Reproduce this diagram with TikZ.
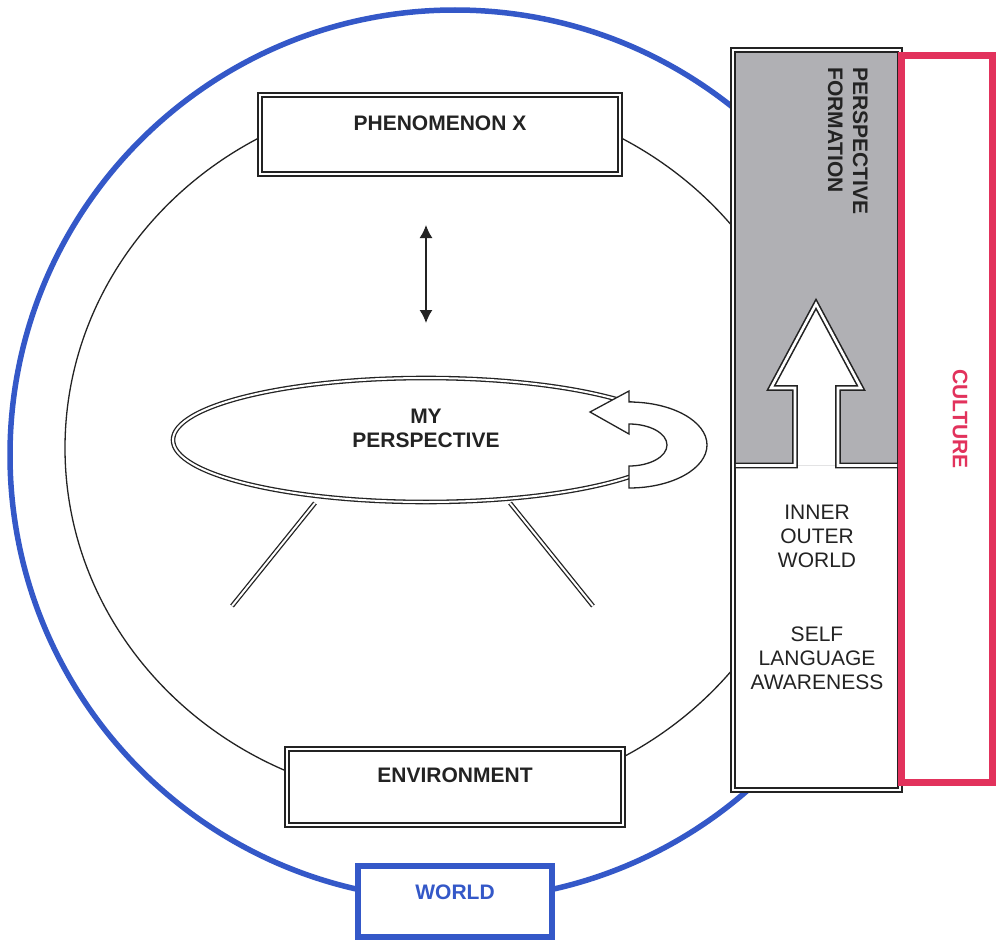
\documentclass[tikz,border=0pt]{standalone}
\usepackage{fontspec}
\setmainfont{Liberation Sans}
\usetikzlibrary{arrows.meta,shapes.geometric}
\definecolor{worldblue}{RGB}{52,88,200}
\definecolor{culturered}{RGB}{226,50,92}
\definecolor{pfgray}{RGB}{176,176,180}
\definecolor{ink}{RGB}{35,35,35}
\begin{document}
\begin{tikzpicture}[x=1pt,y=-1pt,
  dbl/.style={draw=ink, double=white, line width=1.6pt, double distance=2.6pt},
  dblthin/.style={draw=ink, double=white, line width=1.3pt, double distance=2pt},
  innerline/.style={draw=ink, line width=1.3pt},
  lbl/.style={font=\fontsize{21}{24}\selectfont, text=ink, inner sep=0pt},
  blbl/.style={font=\bfseries\fontsize{21}{24}\selectfont, text=ink, inner sep=0pt},
]
\useasboundingbox (0,0) rectangle (996,942);
\fill[white] (0,0) rectangle (996,942);

% world circle and inner ellipse
\draw[worldblue, line width=5.5pt] (455,455) circle[radius=445];
\draw[innerline] (440,448) ellipse[x radius=375, y radius=354];

% perspective formation column
\node[dbl, fill=white, rectangle, minimum width=167pt, minimum height=740pt, inner sep=0pt] (col) at (816.5,420) {};
\fill[pfgray] (735.8,52.8) rectangle (897.2,465.5);
\fill[white] (795,465.5) -- (795,388) -- (771,388) -- (816,304) -- (861,388) -- (838,388) -- (838,465.5) -- cycle;
\draw[dbl, line join=miter] (735.8,465.5) -- (795,465.5) -- (795,388) -- (771,388) -- (816,304) -- (861,388) -- (838,388) -- (838,465.5) -- (897.2,465.5);
\node[blbl, font=\bfseries\fontsize{21}{25}\selectfont, rotate=-90, anchor=north west, align=left] (pf) at (868,67) {PERSPECTIVE\\FORMATION};
\node[lbl, align=center] (inner) at (817,536) {INNER\\OUTER\\WORLD};
\node[lbl, align=center] (self) at (817,658.5) {SELF\\LANGUAGE\\AWARENESS};

% culture
\node[draw=culturered, line width=7pt, minimum width=91.5pt, minimum height=727pt, inner sep=0pt] (culture) at (946.75,419) {};
\node[blbl, text=culturered, rotate=-90] (culturelbl) at (960,419) {CULTURE};

% boxes
\node[dbl, fill=white, minimum width=360pt, text height=35.2pt, text depth=43.8pt, blbl] (phen) at (440,134.5) {PHENOMENON X};
\node[dbl, fill=white, minimum width=336pt, text height=33.2pt, text depth=42.8pt, blbl] (env) at (455,787) {ENVIRONMENT};
\node[draw=worldblue, line width=6pt, fill=white, minimum width=194pt, blbl, text=worldblue, text height=33.2pt, text depth=37.8pt] (world) at (455,901.5) {WORLD};

% legs
\coordinate (l1) at (315,503);
\coordinate (l2) at (232,606);
\coordinate (r1) at (510,503);
\coordinate (r2) at (593,606);
\draw[dblthin] (l1) -- (l2);
\draw[dblthin] (r1) -- (r2);

% my perspective
\node[ellipse, dblthin, fill=white, minimum width=506pt, minimum height=124pt, inner sep=0pt] (myp) at (426,440) {};
\node[blbl, align=center] (myplbl) at (426,428) {MY\\PERSPECTIVE};

% loop arrow
\filldraw[fill=white, draw=ink, line width=1.3pt, line join=miter]
  (590,412) -- (629,391) -- (629,402)
  arc[start angle=-90, end angle=90, x radius=78, y radius=43]
  -- (629,466)
  arc[start angle=90, end angle=-90, x radius=38, y radius=21]
  -- (629,434) -- cycle;

% double arrow
\coordinate (da1) at (426,225);
\coordinate (da2) at (426,323);
\draw[ink, line width=1.5pt, {Latex[length=13pt,width=13pt]}-{Latex[length=13pt,width=13pt]}] (da1) -- (da2);
\end{tikzpicture}
\end{document}
